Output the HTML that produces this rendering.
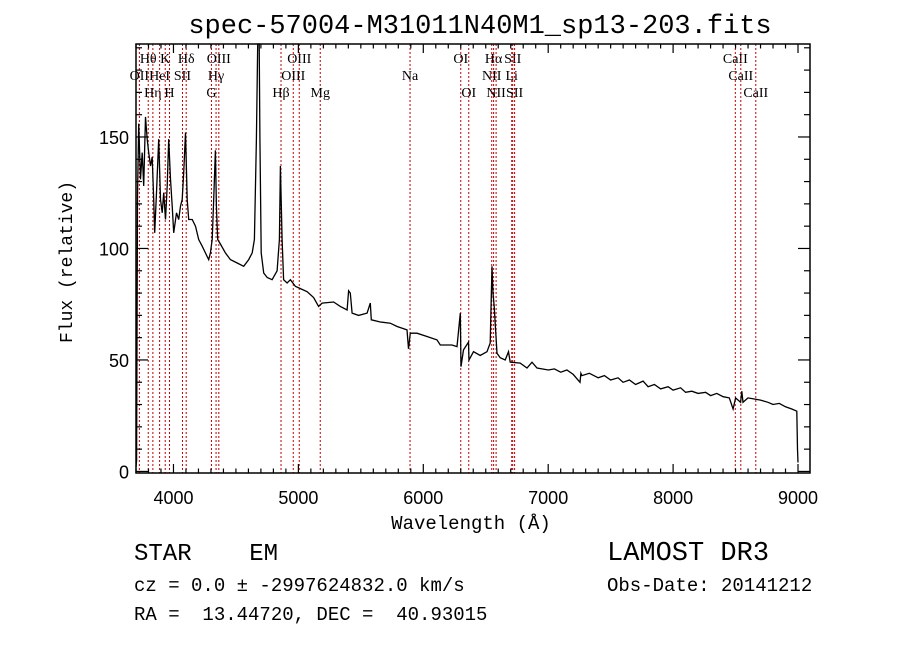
<!DOCTYPE html>
<html><head><meta charset="utf-8">
<style>
html,body{margin:0;padding:0;background:#fff;}
svg{display:block;}
.mono{font-family:"Liberation Mono",monospace;}
.sans{font-family:"Liberation Sans",sans-serif;}
.serif{font-family:"Liberation Serif",serif;}
</style></head>
<body>
<svg id="chart" width="900" height="649" viewBox="0 0 900 649">
  <rect x="0" y="0" width="900" height="649" fill="#fff"/>
  <text x="480" y="33" text-anchor="middle" class="mono" font-size="27">spec-57004-M31011N40M1_sp13-203.fits</text>
  <g id="lines"></g>
  <g id="spec"></g>
  <g id="axes"></g>
  <text x="471" y="529" text-anchor="middle" class="mono" font-size="19">Wavelength (Å)</text>
  <text transform="translate(72,262) rotate(-90)" text-anchor="middle" class="mono" font-size="18">Flux (relative)</text>
  <text x="134" y="560" class="mono" font-size="24" xml:space="preserve">STAR    EM</text>
  <text x="134" y="591" class="mono" font-size="19">cz = 0.0 ± -2997624832.0 km/s</text>
  <text x="134" y="620" class="mono" font-size="19" xml:space="preserve">RA =  13.44720, DEC =  40.93015</text>
  <text x="607" y="560" class="mono" font-size="27">LAMOST DR3</text>
  <text x="607" y="591" class="mono" font-size="19">Obs-Date: 20141212</text>
</svg>
<script>
const wavelengths=[3700,3705,3712,3722,3736,3750,3762,3776,3790,3802,3816,3830,3842,3850,3864,3882,3896,3910,3922,3936,3950,3962,3976,3990,4002,4024,4042,4056,4070,4082,4096,4110,4122,4150,4176,4202,4230,4256,4282,4296,4310,4322,4336,4344,4354,4376,4416,4456,4510,4562,4602,4630,4648,4664,4674,4686,4692,4702,4722,4750,4790,4830,4848,4856,4870,4882,4910,4936,4976,5016,5070,5122,5162,5190,5282,5336,5390,5402,5416,5430,5482,5550,5576,5584,5656,5736,5790,5870,5882,5896,5950,6030,6110,6136,6230,6270,6296,6302,6322,6362,6366,6402,6456,6510,6536,6550,6558,6568,6590,6616,6656,6682,6696,6776,6830,6870,6910,7002,7050,7100,7150,7200,7255,7262,7270,7330,7400,7450,7500,7560,7600,7650,7700,7760,7800,7850,7900,7960,8000,8060,8100,8150,8200,8260,8300,8350,8400,8450,8480,8500,8540,8550,8560,8600,8650,8700,8760,8800,8850,8900,8950,8990,8996,9000];
const fluxes=[2,5,123,156,131,143,128,159,149,143,137,141,122,107,125,149,122,116,125,113,128,149,131,119,107,116,113,119,122,134,152,122,113,113,110,104,101,98,95,98,104,122,144,119,104,102,98,95,93.5,92,95,98,104,149,200,200,150,98,89,87,86,90,104,137,104,86,84.5,86,83,82,80.6,78,74,75.5,76,74,72.4,81,80,71,70,71,75.5,68,67,66.5,65,63.5,55,62,62,60.5,59,56.7,56.7,56,71,47,54.5,58,50,53.7,52,53.7,57.6,92,80,74,53,51,50,53.7,49,48.6,46.4,49,46.4,45.5,46,44.5,45.5,43.5,40,44,43,44,42,43,41,42,40,41,39,40.5,38,39,37,38,36.5,37.5,35.5,36,35,35.5,34,35,33.5,33,28,33,31,36,31,33,32.5,32,31,30,30.5,29,28,27,10,4];
const lineWaves=[3727,3798,3835,3889,3934,3968,4072,4102,4304,4341,4363,4861,4959,5007,5175,5894,6300,6364,6548,6563,6583,6708,6716,6731,8498,8542,8662];
const lineNames=["OII","Hθ","Hη","HeI","K","H","SII","Hδ","G","Hγ","OIII","Hβ","OIII","OIII","Mg","Na","OI","OI","NII","Hα","NII","Li","SII","SII","CaII","CaII","CaII"];
const lineRows=[2,1,3,2,1,3,2,1,3,2,1,3,2,1,3,2,1,3,2,1,3,2,1,3,1,2,3];
const xTicks=[4000,5000,6000,7000,8000,9000];
const yTicks=[0,50,100,150];

const L=136,R=810,T=44,B=473;
const X0=3700,X1=9096,Y0=-0.7,Y1=191.7;
const xs=v=>L+(v-X0)/(X1-X0)*(R-L);
const ys=v=>B-(v-Y0)/(Y1-Y0)*(B-T);
const NS="http://www.w3.org/2000/svg";
function mk(tag,attrs,parent){const e=document.createElementNS(NS,tag);for(const k in attrs)e.setAttribute(k,attrs[k]);parent.appendChild(e);return e;}
const gL=document.getElementById('lines'),gS=document.getElementById('spec'),gA=document.getElementById('axes');

lineWaves.forEach((w,i)=>{
  const x=xs(w);
  const ln=mk('line',{x1:x,y1:T,x2:x,y2:B,stroke:'#c00000','stroke-width':1,'stroke-dasharray':'2,2'},gL);
  
  
  const ty=[0,63,80,97][lineRows[i]];
  const t=mk('text',{x:x,y:ty,'text-anchor':'middle','font-size':14,'class':'serif'},gL);
  t.textContent=lineNames[i];
  
  
});

const pts=wavelengths.map((w,i)=>xs(w).toFixed(1)+','+Math.max(T,ys(fluxes[i])).toFixed(1)).join(' ');
const pl=mk('polyline',{points:pts,fill:'none',stroke:'#000','stroke-width':1.3,'stroke-linejoin':'miter'},gS);



const frame=mk('rect',{x:L,y:T,width:R-L,height:B-T,fill:'none',stroke:'#000','stroke-width':1.5},gA);


for(let w=3700;w<=9096;w+=100){
  const x=xs(w),major=(w%1000===0);const len=major?9:4.5;
  mk('line',{x1:x,y1:B,x2:x,y2:B-len,stroke:'#000','stroke-width':1.2},gA);
  mk('line',{x1:x,y1:T,x2:x,y2:T+len,stroke:'#000','stroke-width':1.2},gA);
}
for(let v=0;v<=190;v+=10){
  const y=ys(v),major=(v%50===0);const len=major?12:6;
  mk('line',{x1:L,y1:y,x2:L+len,y2:y,stroke:'#000','stroke-width':1.2},gA);
  mk('line',{x1:R,y1:y,x2:R-len,y2:y,stroke:'#000','stroke-width':1.2},gA);
}
xTicks.forEach(v=>{
  const t=mk('text',{x:xs(v),y:504,'text-anchor':'middle','font-size':18,'class':'sans'},gA);
  t.textContent=v;
  
  
});
yTicks.forEach(v=>{
  const t=mk('text',{x:129,y:ys(v)+7,'text-anchor':'end','font-size':18,'class':'sans'},gA);
  t.textContent=v;
  
  
});
</script>
</body></html>
